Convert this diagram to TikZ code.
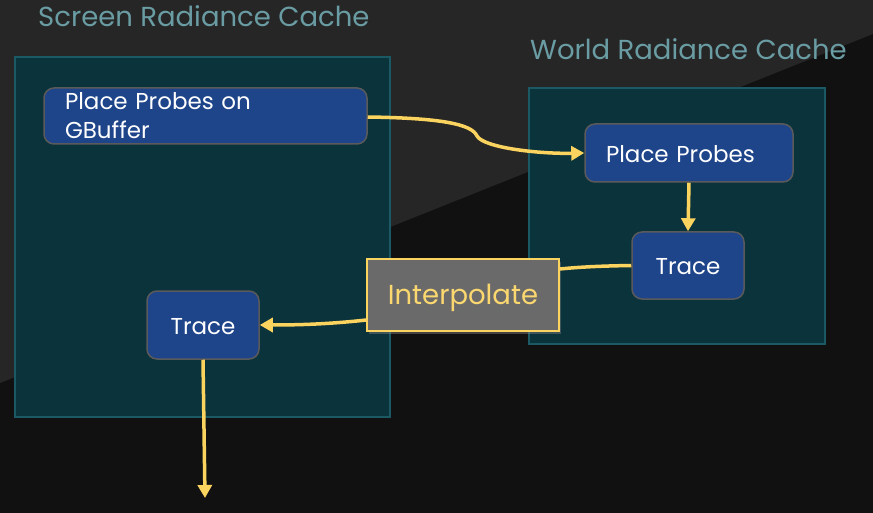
\documentclass[tikz,border=0pt]{standalone}
\usepackage{fontspec}
\setmainfont{Poppins}
\usepackage{xcolor}
\usetikzlibrary{arrows.meta,positioning,shadows}

\definecolor{bglight}{HTML}{262626}
\definecolor{bgdark}{HTML}{111111}
\definecolor{clfill}{HTML}{0B333B}
\definecolor{cldraw}{HTML}{1B5965}
\definecolor{nodefill}{HTML}{1E4489}
\definecolor{nodedraw}{HTML}{5A5A5A}
\definecolor{titlecol}{HTML}{6A9CA3}
\definecolor{flowcol}{HTML}{FBD35F}
\definecolor{interfill}{HTML}{6A6A6A}

\newcommand{\lowered}[2]{\raisebox{-#1}[\height][\depth]{#2}}

\begin{document}
\begin{tikzpicture}[
    x=1pt, y=-1pt,
    cluster/.style={draw=cldraw, fill=clfill, line width=1.5pt},
    title/.style={anchor=base west, text=titlecol, font=\fontsize{27.5}{32}\selectfont, inner sep=0pt},
    pass/.style={draw=nodedraw, fill=nodefill, line width=1.5pt, rounded corners=10pt,
                 text=white, font=\fontsize{23}{29}\selectfont, inner sep=0pt},
    interp/.style={draw=flowcol, fill=interfill, line width=1.5pt, text=flowcol!90!white,
                   font=\fontsize{27.5}{32}\selectfont, inner sep=0pt,
                   drop shadow={opacity=0.45, shadow xshift=2pt, shadow yshift=-3pt}},
    flow/.style={draw=flowcol, line width=3.5pt},
    >={Triangle[length=13pt,width=14pt]},
    ]

% ---- background ----
\fill[bgdark] (0,0) rectangle (873,513);
\fill[bglight] (0,0) -- (873,0) -- (873,34) -- (0,383) -- cycle;
\useasboundingbox (0,0) rectangle (873,513);

% ---- clusters ----
\draw[cluster] (15,57) rectangle (390,417);
\draw[cluster] (529,88) rectangle (825,344);
\node[title] (screentitle) at (38,27) {Screen Radiance Cache};
\node[title] (worldtitle) at (530,60) {World Radiance Cache};

% ---- passes ----
\node[pass, minimum width=323pt, minimum height=56pt, text width=281pt, align=left]
      (ppgbuf) at (205.5,116) {Place Probes on\\GBuffer};
\node[pass, minimum width=208pt, minimum height=58pt, text width=166pt, align=left]
      (ppworld) at (689,153) {\lowered{1pt}{Place Probes}};
\node[pass, minimum width=112pt, minimum height=67pt] (traceworld) at (688,265.5) {\lowered{1.5pt}{Trace}};
\node[interp, minimum width=192pt, minimum height=72pt] (interp) at (463,295) {\lowered{3pt}{Interpolate}};
\node[pass, minimum width=112pt, minimum height=68pt] (tracescreen) at (203,325) {\lowered{1.5pt}{Trace}};
\coordinate (kink) at (477,136);
\coordinate (out) at (205,498);

% ---- edges ----
\draw[flow, ->] (ppgbuf.east |- 0,117) .. controls (440,118) and (472,124) .. (kink)
      .. controls (484,148) and (540,154) .. (ppworld.west);
\draw[flow, ->] (ppworld.south) -- (traceworld.north);
\draw[flow] (traceworld.west) .. controls (600,266) and (580,267) .. (interp.east |- 0,269);
\draw[flow, ->] (interp.west |- 0,320) .. controls (330,324) and (300,325) .. (tracescreen.east);
\draw[flow, ->] (tracescreen.south) -- (out);
\end{tikzpicture}
\end{document}
